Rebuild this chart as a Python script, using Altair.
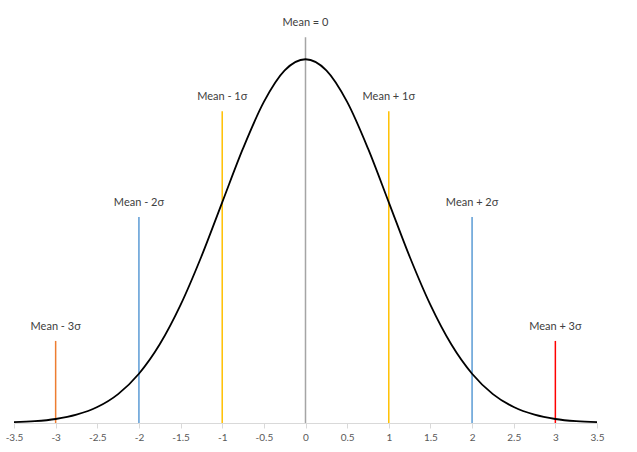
import altair as alt
import pandas as pd

# Normal curve
curve_x = [-3.5, -3.25, -3.0, -2.75, -2.5, -2.25, -2.0, -1.75, -1.5, -1.25, -1.0, -0.75, -0.5, -0.25, 0.0,
           0.25, 0.5, 0.75, 1.0, 1.25, 1.5, 1.75, 2.0, 2.25, 2.5, 2.75, 3.0, 3.25, 3.5]
curve_y = [0.0009, 0.0020, 0.0044, 0.0091, 0.0175, 0.0317, 0.0540, 0.0863, 0.1295, 0.1826, 0.2420, 0.3011, 0.3521, 0.3867, 0.3989,
           0.3867, 0.3521, 0.3011, 0.2420, 0.1826, 0.1295, 0.0863, 0.0540, 0.0317, 0.0175, 0.0091, 0.0044, 0.0020, 0.0009]

# Reference lines
line_x = [-3, -2, -1, 0, 1, 2, 3]
line_top = [0.09, 0.226, 0.342, 0.423, 0.342, 0.226, 0.09]
line_label = ["Mean - 3σ", "Mean - 2σ", "Mean - 1σ", "Mean = 0", "Mean + 1σ", "Mean + 2σ", "Mean + 3σ"]
line_color = ["#ED7D31", "#5B9BD5", "#FFC000", "#A5A5A5", "#FFC000", "#5B9BD5", "#FF0000"]

curve_df = pd.DataFrame({"x": curve_x, "y": curve_y})
lines_df = pd.DataFrame({"x": line_x, "top": line_top, "label": line_label, "zero": [0] * len(line_x)})

xscale = alt.Scale(domain=[-3.5, 3.5], nice=False, zero=False)
yscale = alt.Scale(domain=[0, 0.4529], nice=False)
cscale = alt.Scale(domain=line_label, range=line_color)

tick_values = [-3.5, -3, -2.5, -2, -1.5, -1, -0.5, 0, 0.5, 1, 1.5, 2, 2.5, 3, 3.5]

xaxis = alt.Axis(values=tick_values, title=None, grid=False, domainColor="#D9D9D9", domainWidth=1,
                 tickColor="#D9D9D9", tickSize=5, labelColor="#595959", labelFont="Lato",
                 labelFontSize=10, labelPadding=4, labelExpr="datum.value + ''", labelFlush=False)

rules = alt.Chart(lines_df).mark_rule(strokeWidth=1.5).encode(
    x=alt.X("x:Q", scale=xscale, axis=xaxis),
    y=alt.Y("zero:Q", scale=yscale, axis=None),
    y2="top:Q",
    color=alt.Color("label:N", scale=cscale, legend=None),
)

curve = alt.Chart(curve_df).mark_line(color="black", strokeWidth=1.8, interpolate="monotone").encode(
    x=alt.X("x:Q", scale=xscale),
    y=alt.Y("y:Q", scale=yscale),
)

labels = alt.Chart(lines_df).mark_text(font="Lato", fontSize=11, color="#404040",
                                       baseline="alphabetic", dy=-11).encode(
    x=alt.X("x:Q", scale=xscale),
    y=alt.Y("top:Q", scale=yscale),
    text="label:N",
)

chart = alt.layer(rules, curve, labels).properties(
    width=583, height=413,
    autosize=alt.AutoSizeParams(type="none"),
    padding={"left": 14, "top": 10, "right": 40, "bottom": 29},
    background="white",
).configure_view(stroke=None)

chart.save("out.html", embed_options={"renderer": "svg", "actions": False})
